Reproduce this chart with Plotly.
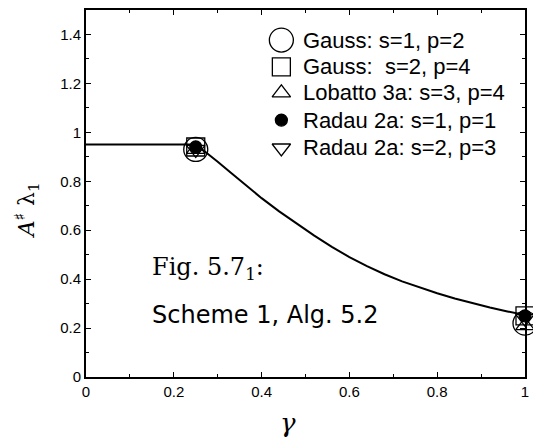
import plotly.graph_objects as go

# Eigenvalue curve lambda_1 vs gamma
gamma_curve = [0.0, 0.25, 0.26, 0.28, 0.30, 0.33, 0.36, 0.40, 0.44, 0.48, 0.52, 0.56, 0.60,
               0.64, 0.68, 0.72, 0.76, 0.80, 0.84, 0.88, 0.92, 0.96, 1.0]
lambda_curve = [0.95, 0.95, 0.937, 0.910, 0.880, 0.835, 0.790, 0.731, 0.677, 0.626, 0.578, 0.532, 0.490,
                0.453, 0.420, 0.391, 0.365, 0.342, 0.321, 0.302, 0.284, 0.268, 0.253]

# Scheme results at gamma = 0.25 and gamma = 1
gamma_pts = [0.25, 1.0]
gauss_s1 = [0.93, 0.22]
gauss_s2 = [0.94, 0.25]
lobatto_s3 = [0.93, 0.21]
radau_s1 = [0.94, 0.25]
radau_s2 = [0.93, 0.24]

series_names = ["Gauss: s=1, p=2", "Gauss:  s=2, p=4", "Lobatto 3a: s=3, p=4",
                "Radau 2a: s=1, p=1", "Radau 2a: s=2, p=3"]

fig = go.Figure()
fig.add_trace(go.Scatter(x=gamma_curve, y=lambda_curve, mode="lines",
                         line=dict(color="black", width=2),
                         showlegend=False, hoverinfo="skip"))

styles = [
    (gauss_s1, "circle-open", 24),
    (gauss_s2, "square-open", 18),
    (lobatto_s3, "triangle-up-open", 16),
    (radau_s1, "circle", 12),
    (radau_s2, "triangle-down-open", 16),
]

# Key box: rows laid out in a unit overlay axis spanning the plot area
key_marker_x = 0.445
key_text_x = 0.490
key_rows = [0.918, 0.845, 0.774, 0.700, 0.624]

for i, (name, (vals, sym, size)) in enumerate(zip(series_names, styles)):
    marker = dict(symbol=sym, size=size, color="black", line=dict(color="black", width=1.3))
    fig.add_trace(go.Scatter(x=gamma_pts, y=vals, mode="markers", name=name,
                             cliponaxis=False, marker=marker, showlegend=False))
    fig.add_trace(go.Scatter(x=[key_marker_x], y=[key_rows[i]], mode="markers",
                             xaxis="x2", yaxis="y2", marker=marker,
                             showlegend=False, hoverinfo="skip"))
    fig.add_annotation(x=key_text_x, y=key_rows[i], xref="paper", yref="paper",
                       text=name, showarrow=False, xanchor="left", yanchor="middle",
                       font=dict(family="Liberation Sans, Arial, sans-serif", size=22, color="black"))

fig.add_annotation(x=0.145, y=0.445, xref="x", yref="y", showarrow=False,
                   text="Fig. 5.7<sub>1</sub>:", xanchor="left",
                   font=dict(family="DejaVu Serif, serif", size=24, color="black"))
fig.add_annotation(x=0.145, y=0.255, xref="x", yref="y", showarrow=False,
                   text="Scheme 1, Alg. 5.2", xanchor="left",
                   font=dict(family="DejaVu Sans, sans-serif", size=24, color="black"))

# Axis titles
fig.add_annotation(x=-0.135, y=0.68, xref="paper", yref="y", showarrow=False,
                   text="<i>A</i><sup>♯</sup> λ<sub>1</sub>", textangle=-90,
                   xanchor="center", yanchor="middle",
                   font=dict(family="DejaVu Serif, serif", size=22, color="black"))
fig.add_annotation(x=0.46, y=-0.125, xref="paper", yref="paper", showarrow=False,
                   text="<i>γ</i>", xanchor="center", yanchor="middle",
                   font=dict(family="DejaVu Serif, serif", size=26, color="black"))

axis_common = dict(
    showline=True, linecolor="black", linewidth=2, mirror="allticks",
    ticks="inside", ticklen=5, tickwidth=1, tickcolor="black",
    showgrid=False, zeroline=False,
    tickfont=dict(family="Liberation Sans, Arial, sans-serif", size=15, color="black"),
    minor=dict(ticks="inside", ticklen=3, tickcolor="black", dtick=0.1),
)
fig.update_layout(
    xaxis=dict(range=[0, 1], tickvals=[0, 0.2, 0.4, 0.6, 0.8, 1],
               ticktext=["0", "0.2", "0.4", "0.6", "0.8", "1"], **axis_common),
    yaxis=dict(range=[0, 1.5], tickvals=[0, 0.2, 0.4, 0.6, 0.8, 1, 1.2, 1.4],
               ticktext=["0", "0.2", "0.4", "0.6", "0.8", "1", "1.2", "1.4"], **axis_common),
    xaxis2=dict(range=[0, 1], overlaying="x", visible=False, fixedrange=True),
    yaxis2=dict(range=[0, 1], overlaying="y", visible=False, fixedrange=True),
    width=533, height=437,
    margin=dict(l=86, r=4, t=10, b=60),
    paper_bgcolor="white", plot_bgcolor="white",
    showlegend=False,
)

fig.write_html("out.html")
